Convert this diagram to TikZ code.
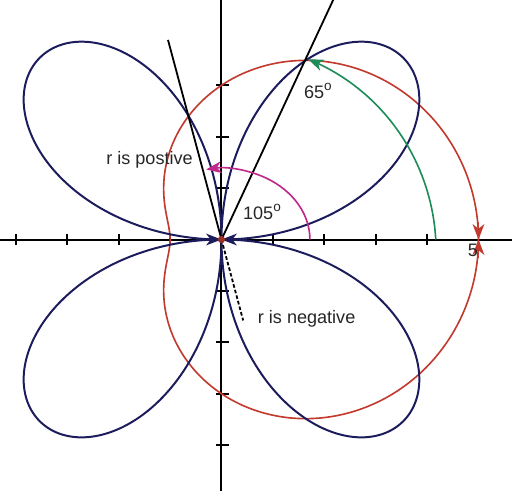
\documentclass[tikz,border=0pt]{standalone}
\usepackage{fontspec}
\setmainfont{Liberation Sans}
\usetikzlibrary{arrows.meta}
\definecolor{rosec}{HTML}{1C1C5C}
\definecolor{limac}{HTML}{C23A2E}
\definecolor{grnc}{HTML}{1E8C5A}
\definecolor{magc}{HTML}{C0288A}
\newcommand{\degsup}{\raisebox{0.85ex}{\fontsize{7.5}{8}\selectfont o}}
\tikzset{
  axisline/.style={black, line width=1.1pt},
  tickmark/.style={black, line width=1pt},
  rosecurve/.style={rosec, line width=1.1pt},
  limacurve/.style={limac, line width=0.9pt},
  ray/.style={black, line width=1pt},
  dashray/.style={black, line width=1pt, dash pattern=on 2pt off 1.2pt},
  tipstyle/.style={-{Stealth[length=8.5pt, width=6.5pt, inset=2.5pt]}},
  lbl/.style={inner sep=0pt, font=\fontsize{10}{12}\selectfont, text=black!85}
}
\begin{document}
\begin{tikzpicture}[x=1cm,y=1cm]
\useasboundingbox (-4.309,-4.874) rectangle (5.652,4.660);
\clip (-4.309,-4.874) rectangle (5.652,4.660);
\coordinate (O) at (0,0);
% axes
\coordinate (xl) at (-4.4,0); \coordinate (xr) at (5.7,0);
\coordinate (yb) at (0,-4.9); \coordinate (yt) at (0,4.7);
\draw[axisline] (xl) -- (xr);
\draw[axisline] (yb) -- (yt);
\foreach \x in {-4,-3,-2,-1,1,2,3,4,5} \draw[tickmark] (\x,-0.11) -- (\x,0.11);
\foreach \y in {-4,-3,-2,-1,1,2,3} \draw[tickmark] (-0.1,\y) -- (0.14,\y);
% limacon r = 3 + 2 cos t
\draw[limacurve] plot[domain=0:360, samples=361, variable=\t]
  ({(3+2*cos(\t))*cos(\t)},{(3+2*cos(\t))*sin(\t)}) -- cycle;
% four-petal rose r = 5 sin 2t
\draw[rosecurve] plot[domain=0:360, samples=721, variable=\t]
  ({5*sin(2*\t)*cos(\t)},{5*sin(2*\t)*sin(\t)}) -- cycle;
% rays
\coordinate (P65) at (65:5.4);
\coordinate (P105) at (105:4.02);
\coordinate (N285) at (285:1.63);
\draw[ray] (O) -- (P65);
\draw[ray] (O) -- (P105);
\draw[dashray] (O) -- (N285);
% green arc to the 65 degree point
\draw[grnc, line width=0.9pt, tipstyle] plot[domain=0:64.3, samples=20, smooth, variable=\t]
  ({(4.17-0.28*\t/65)*cos(\t)},{(4.17-0.28*\t/65)*sin(\t)});
% magenta arc to 105 degrees
\coordinate (M0) at (1.72,0);
\draw[magc, line width=0.9pt, tipstyle] (M0) arc[start angle=0, end angle=100, x radius=1.72, y radius=1.385];
% red arrowheads at (5,0)
\coordinate (F) at (5,0);
\coordinate (Fa) at (5,0.35);
\coordinate (Fb) at (5,-0.35);
\draw[limac, line width=0.9pt, tipstyle] (Fa) -- (F);
\draw[limac, line width=0.9pt, tipstyle] (Fb) -- (F);
% blue arrowheads at origin
\coordinate (Ol) at (-0.36,0);
\coordinate (Or) at (0.36,0);
\draw[rosec, line width=1pt, tipstyle] (Ol) -- (O);
\draw[rosec, line width=1pt, tipstyle] (Or) -- (O);
\fill[limac!80!black] (O) circle (0.07);
% labels
\node[lbl] (l65) at (1.877,2.889) {65\degsup};
\node[lbl] (l105) at (0.788,0.535) {105\degsup};
\node[lbl] (lpos) at (-1.40,1.547) {r is postive};
\node[lbl] (lneg) at (1.657,-1.547) {r is negative};
\node[lbl] (l5) at (4.89,-0.204) {5};
\end{tikzpicture}
\end{document}
